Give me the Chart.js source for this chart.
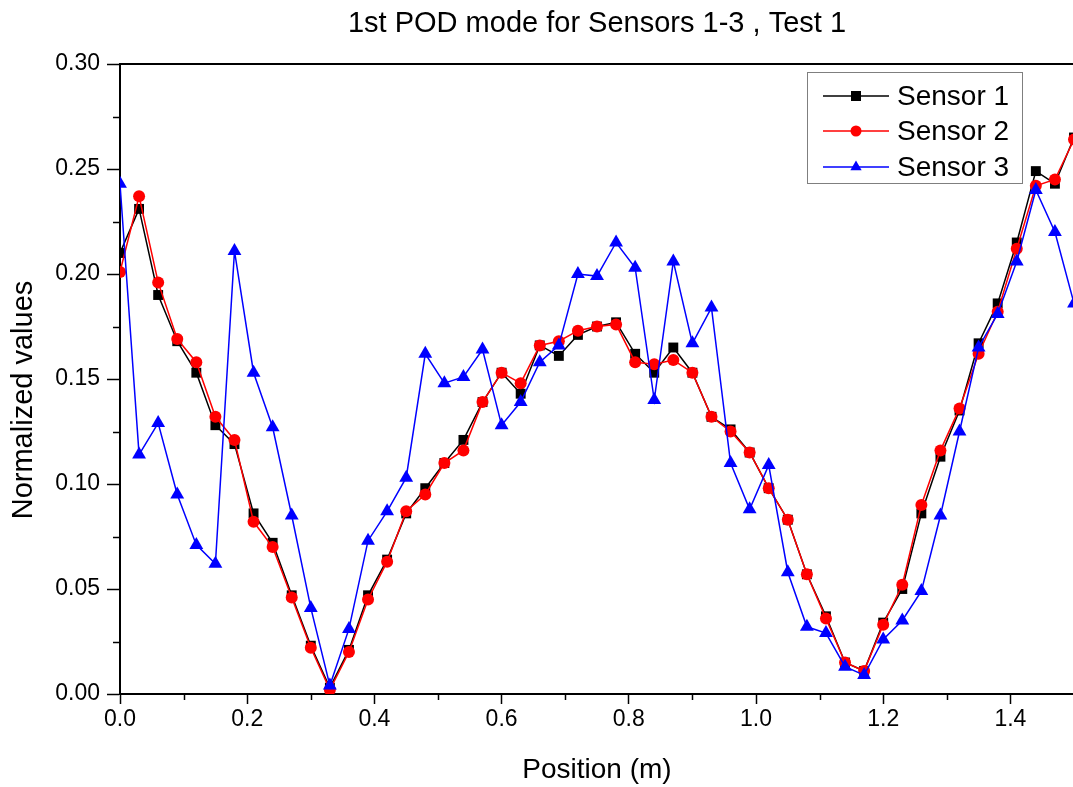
<!DOCTYPE html>
<html>
<head>
<meta charset="utf-8">
<title>1st POD mode for Sensors 1-3 , Test 1</title>
<script src="https://cdn.jsdelivr.net/npm/chart.js@4.4.1/dist/chart.umd.min.js"></script>
<style>
  html, body { margin: 0; padding: 0; background: #fff; overflow: hidden; }
  canvas { display: block; }
</style>
</head>
<body>
<canvas id="pod-chart" width="1100" height="787"></canvas>
<script>
// Sensor positions along the beam (m)
const positions = [
  0.00, 0.03, 0.06, 0.09, 0.12, 0.15, 0.18, 0.21, 0.24, 0.27,
  0.30, 0.33, 0.36, 0.39, 0.42, 0.45, 0.48, 0.51, 0.54, 0.57,
  0.60, 0.63, 0.66, 0.69, 0.72, 0.75, 0.78, 0.81, 0.84, 0.87,
  0.90, 0.93, 0.96, 0.99, 1.02, 1.05, 1.08, 1.11, 1.14, 1.17,
  1.20, 1.23, 1.26, 1.29, 1.32, 1.35, 1.38, 1.41, 1.44, 1.47, 1.50
];

const sensor1 = [
  0.210, 0.231, 0.190, 0.168, 0.153, 0.128, 0.119, 0.086, 0.072, 0.047,
  0.023, 0.003, 0.021, 0.047, 0.064, 0.086, 0.098, 0.110, 0.121, 0.139,
  0.153, 0.143, 0.166, 0.161, 0.171, 0.175, 0.177, 0.162, 0.153, 0.165,
  0.153, 0.132, 0.126, 0.115, 0.098, 0.083, 0.057, 0.037, 0.015, 0.011,
  0.034, 0.050, 0.086, 0.113, 0.135, 0.167, 0.186, 0.215, 0.249, 0.243, 0.265
];

const sensor2 = [
  0.201, 0.237, 0.196, 0.169, 0.158, 0.132, 0.121, 0.082, 0.070, 0.046,
  0.022, 0.002, 0.020, 0.045, 0.063, 0.087, 0.095, 0.110, 0.116, 0.139,
  0.153, 0.148, 0.166, 0.168, 0.173, 0.175, 0.176, 0.158, 0.157, 0.159,
  0.153, 0.132, 0.125, 0.115, 0.098, 0.083, 0.057, 0.036, 0.015, 0.011,
  0.033, 0.052, 0.090, 0.116, 0.136, 0.162, 0.182, 0.212, 0.242, 0.245, 0.264
];

const sensor3 = [
  0.243, 0.114, 0.129, 0.095, 0.071, 0.062, 0.211, 0.153, 0.127, 0.085,
  0.041, 0.004, 0.031, 0.073, 0.087, 0.103, 0.162, 0.148, 0.151, 0.164,
  0.128, 0.139, 0.158, 0.166, 0.200, 0.199, 0.215, 0.203, 0.140, 0.206,
  0.167, 0.184, 0.110, 0.088, 0.109, 0.058, 0.032, 0.029, 0.013, 0.009,
  0.026, 0.035, 0.049, 0.085, 0.125, 0.165, 0.181, 0.206, 0.240, 0.220, 0.186
];

const seriesLabels = ['Sensor 1', 'Sensor 2', 'Sensor 3'];
const seriesColors = ['#000000', '#ff0000', '#0000ff'];
const seriesMarkers = ['rect', 'circle', 'triangle'];
const markerRadius = [7, 6, 8];

const FONT = "'Liberation Sans', Arial, Helvetica, sans-serif";

const toPoints = (values) => values.map((v, i) => ({ x: positions[i], y: v }));

// small marker drawing used by the in-plot legend
function drawMarker(ctx, style, x, y, size) {
    ctx.beginPath();
    if (style === 'rect') {
        ctx.rect(x - size / 2, y - size / 2, size, size);
    } else if (style === 'circle') {
        ctx.arc(x, y, size / 2 + 0.5, 0, Math.PI * 2);
    } else {
        const r = size * 0.65;
        ctx.moveTo(x, y - r);
        ctx.lineTo(x + r * 0.866, y + r * 0.5);
        ctx.lineTo(x - r * 0.866, y + r * 0.5);
        ctx.closePath();
    }
    ctx.fill();
}

// top frame line, minor ticks, y title and the boxed legend inside the plot
const originFrame = {
    id: 'originFrame',
    afterDraw(chart) {
        const { ctx, chartArea, scales } = chart;
        ctx.save();
        ctx.strokeStyle = '#000';

        ctx.lineWidth = 2;
        ctx.beginPath();
        ctx.moveTo(chartArea.left - 1, chartArea.top);
        ctx.lineTo(chartArea.right + 2, chartArea.top);
        ctx.stroke();

        // minor ticks halfway between the major ones
        ctx.lineWidth = 1.5;
        const xs = scales.x, ys = scales.y;
        const xt = xs.ticks.map(t => t.value);
        const xStep = xt[1] - xt[0];
        for (let i = 0; i < xt.length; i++) {
            const v = xt[i] + xStep / 2;
            if (v > xs.max + 1e-9) break;
            const px = Math.round(xs.getPixelForValue(v)) + 0.5;
            ctx.beginPath();
            ctx.moveTo(px, chartArea.bottom);
            ctx.lineTo(px, chartArea.bottom + 6);
            ctx.stroke();
        }
        const yt = ys.ticks.map(t => t.value);
        const yStep = yt[1] - yt[0];
        for (let i = 0; i < yt.length - 1; i++) {
            const v = yt[i] + yStep / 2;
            const py = Math.round(ys.getPixelForValue(v)) + 0.5;
            ctx.beginPath();
            ctx.moveTo(chartArea.left, py);
            ctx.lineTo(chartArea.left - 7, py);
            ctx.stroke();
        }

        // y axis title sits a little below the plot centre in the original
        ctx.save();
        ctx.translate(24, 400);
        ctx.rotate(-Math.PI / 2);
        ctx.font = '29px ' + FONT;
        ctx.fillStyle = '#000';
        ctx.textAlign = 'center';
        ctx.textBaseline = 'middle';
        ctx.fillText('Normalized values', 0, 0);
        ctx.restore();

        // legend box
        const boxRight = chartArea.right - 52;
        const boxW = 215, boxH = 111;
        const boxL = boxRight - boxW, boxT = chartArea.top + 8;
        ctx.fillStyle = '#fff';
        ctx.fillRect(boxL, boxT, boxW, boxH);
        ctx.strokeStyle = '#7f7f7f';
        ctx.lineWidth = 1;
        ctx.strokeRect(boxL + 0.5, boxT + 0.5, boxW, boxH);

        ctx.font = '28px ' + FONT;
        ctx.textBaseline = 'middle';
        ctx.textAlign = 'left';
        const rowY = [24, 59, 95];
        seriesLabels.forEach((label, i) => {
            const y = boxT + rowY[i];
            ctx.strokeStyle = seriesColors[i];
            ctx.fillStyle = seriesColors[i];
            ctx.lineWidth = 1.5;
            ctx.beginPath();
            ctx.moveTo(boxL + 16, y);
            ctx.lineTo(boxL + 82, y);
            ctx.stroke();
            drawMarker(ctx, seriesMarkers[i], boxL + 49, y, 10);
            ctx.fillStyle = '#000';
            ctx.fillText(label, boxL + 90, y + 1);
        });
        ctx.restore();
    }
};

const datasets = [sensor1, sensor2, sensor3].map((values, i) => ({
    label: seriesLabels[i],
    data: toPoints(values),
    borderColor: seriesColors[i],
    backgroundColor: seriesColors[i],
    borderWidth: 1.5,
    pointStyle: seriesMarkers[i],
    pointRadius: markerRadius[i],
    pointBorderWidth: 0,
    tension: 0,
    clip: 0,
    order: 2 - i
}));

new Chart(document.getElementById('pod-chart'), {
    type: 'line',
    data: { datasets },
    options: {
        responsive: false,
        animation: false,
        devicePixelRatio: 1,
        layout: { padding: { left: 0, right: 26, top: 0, bottom: 0 } },
        plugins: {
            legend: { display: false },
            tooltip: { enabled: false },
            title: {
                display: true,
                fullSize: false,
                text: '1st POD mode for Sensors 1-3 , Test 1',
                color: '#000',
                font: { family: FONT, size: 29, weight: 'normal' },
                padding: { top: 7, bottom: 22.2 }
            }
        },
        scales: {
            x: {
                type: 'linear',
                min: 0,
                max: 1.5,
                afterFit: (scale) => { scale.height = 93; },
                border: { display: true, color: '#000', width: 2 },
                grid: { drawOnChartArea: false, drawTicks: true, tickLength: 10, tickWidth: 1.5, tickColor: '#000' },
                ticks: {
                    stepSize: 0.2,
                    includeBounds: false,
                    color: '#000',
                    padding: 2,
                    maxRotation: 0,
                    font: { family: FONT, size: 23 },
                    callback: (v) => v.toFixed(1)
                },
                title: {
                    display: true,
                    text: 'Position (m)',
                    color: '#000',
                    font: { family: FONT, size: 28 },
                    padding: { top: 0, bottom: 0 }
                }
            },
            y: {
                type: 'linear',
                min: 0,
                max: 0.30,
                afterFit: (scale) => { scale.width = 120; },
                border: { display: true, color: '#000', width: 2 },
                grid: { drawOnChartArea: false, drawTicks: true, tickLength: 13, tickWidth: 1.5, tickColor: '#000' },
                ticks: {
                    stepSize: 0.05,
                    color: '#000',
                    padding: 7,
                    font: { family: FONT, size: 23 },
                    callback: (v) => v.toFixed(2)
                },
                title: { display: false }
            }
        }
    },
    plugins: [originFrame]
});
</script>
</body>
</html>
